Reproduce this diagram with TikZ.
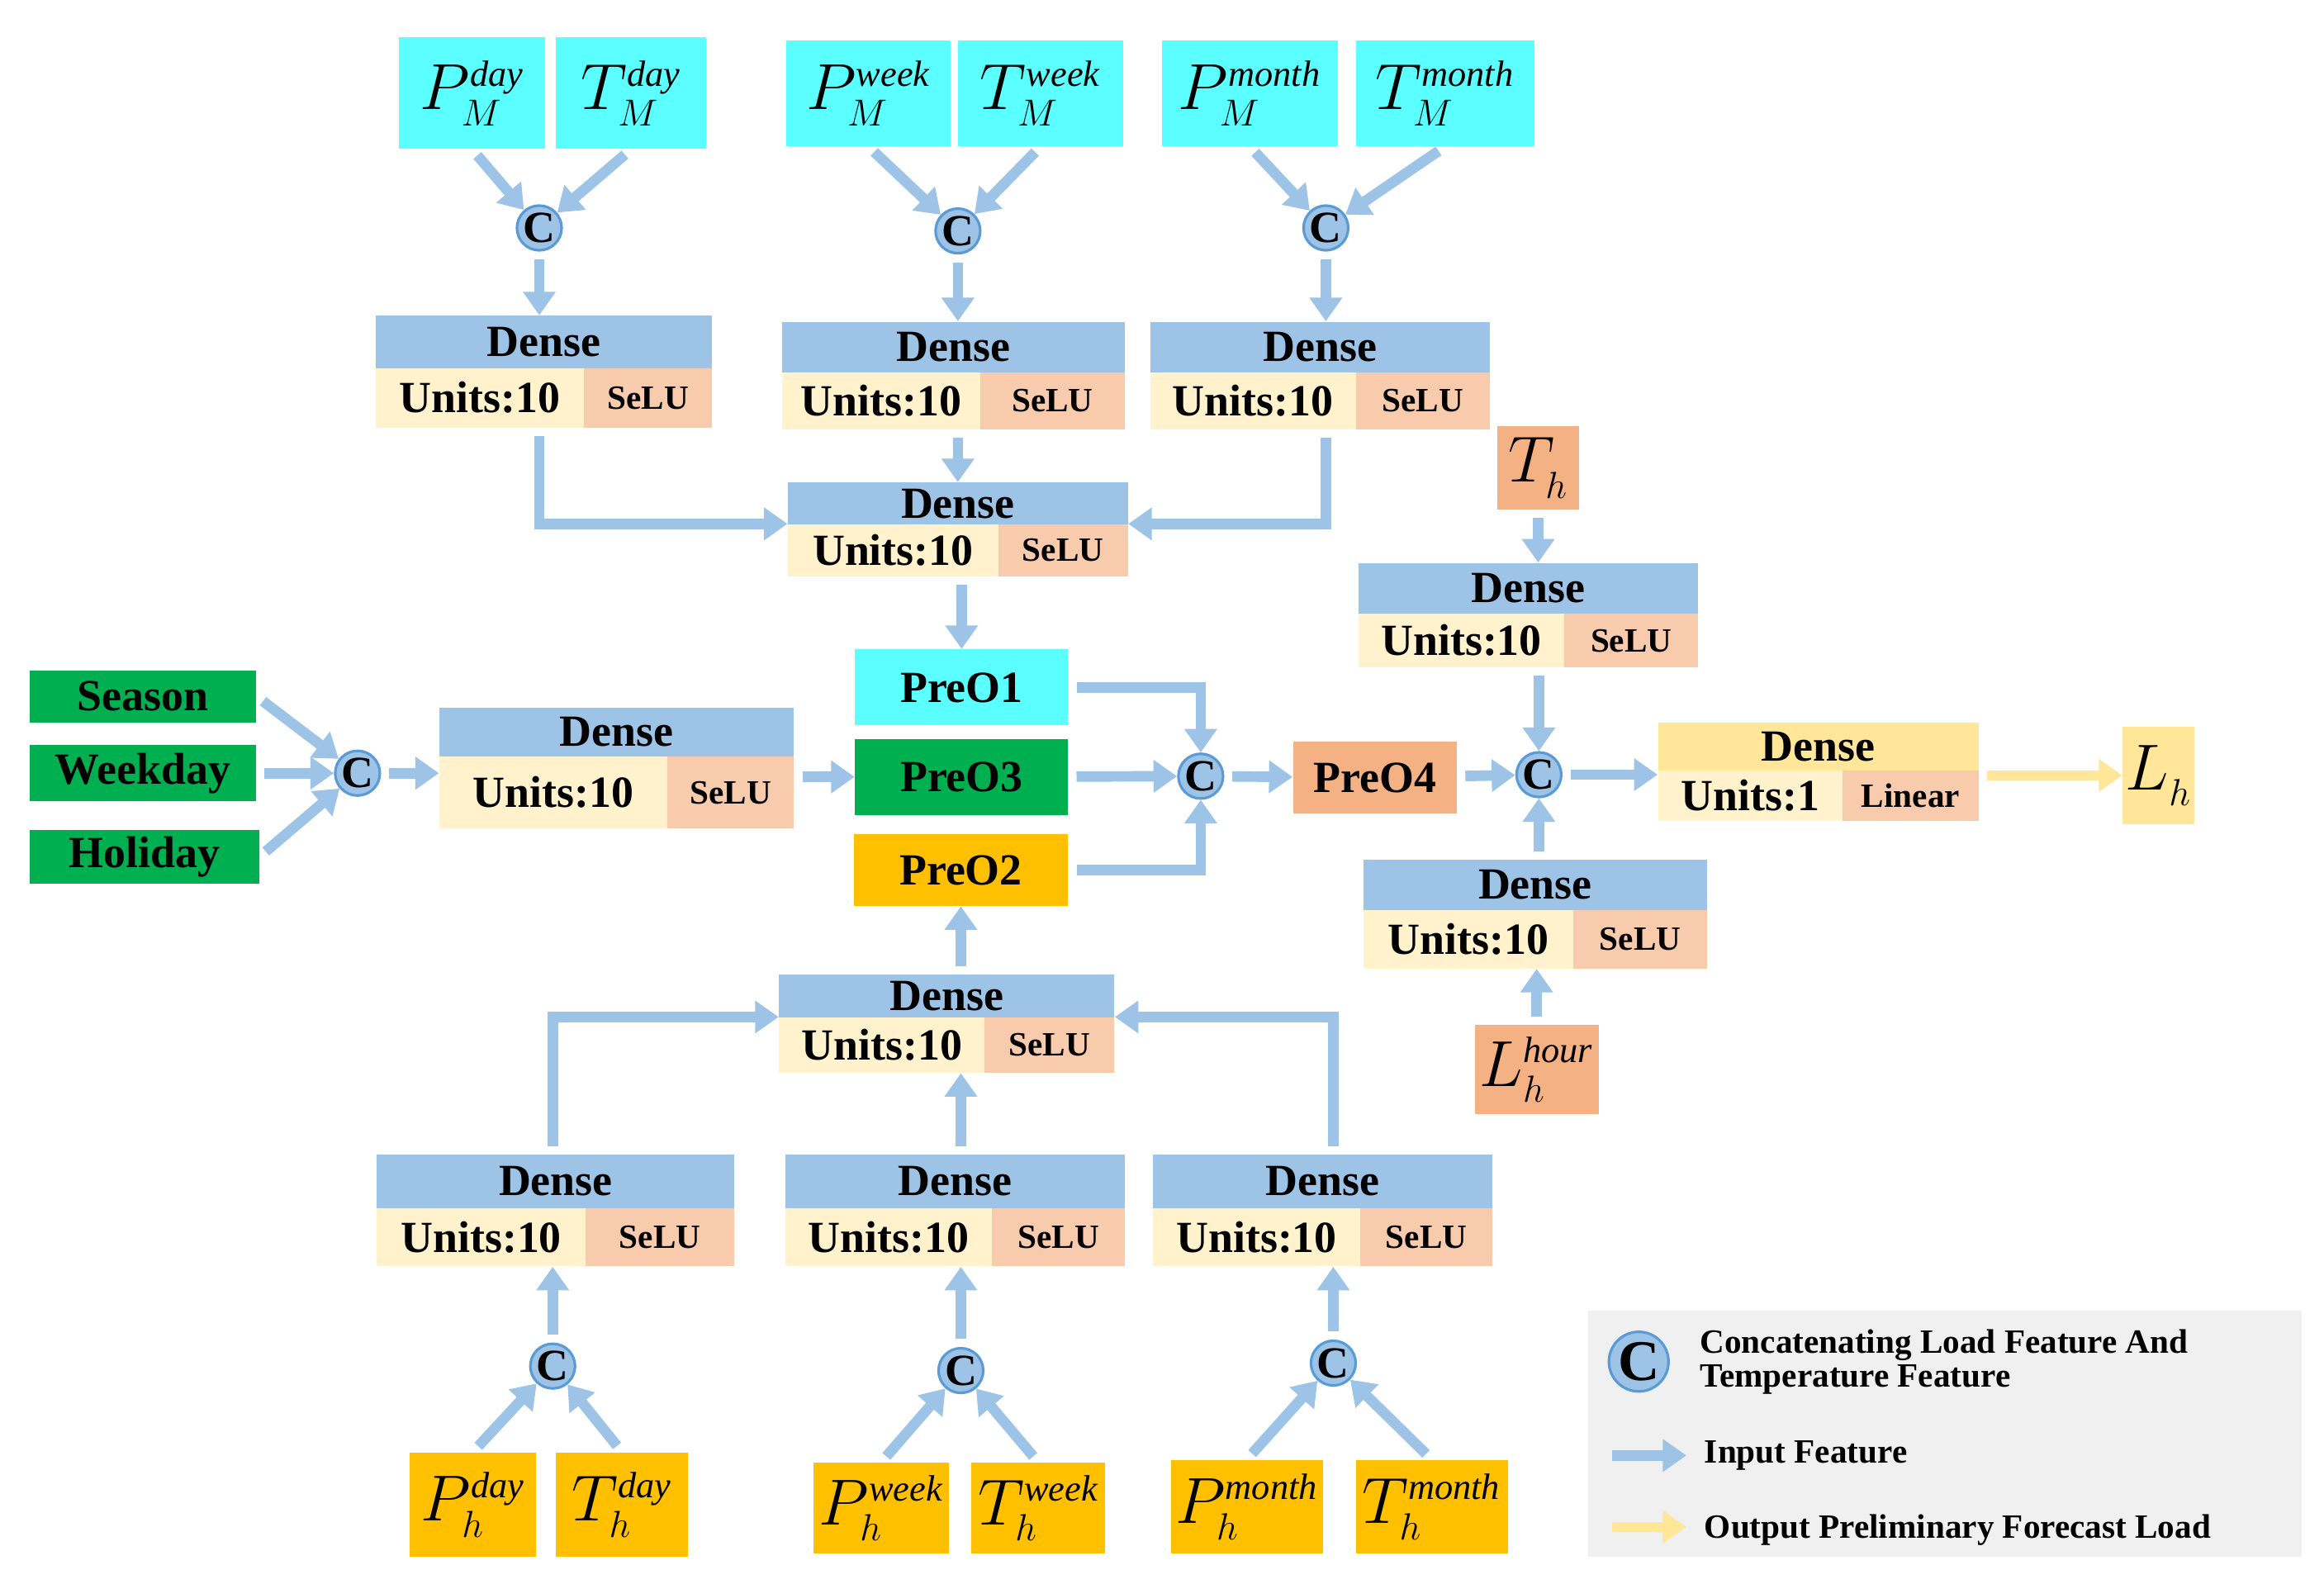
\documentclass[tikz,border=0pt]{standalone}
\usepackage{fontspec}
\setmainfont{Liberation Serif}
\usetikzlibrary{arrows.meta}
\definecolor{ablue}{HTML}{9DC3E6}
\definecolor{cream}{HTML}{FFF2CC}
\definecolor{peach}{HTML}{F8CBAD}
\definecolor{cyanb}{HTML}{5CFFFF}
\definecolor{greenb}{HTML}{00B050}
\definecolor{orangeb}{HTML}{FFC000}
\definecolor{peachd}{HTML}{F4B183}
\definecolor{yel}{HTML}{FFE699}
\definecolor{cring}{HTML}{5B9BD5}
\colorlet{barc}{ablue}
\newcommand\dense[9]{%
\node[rect,fill=barc,minimum width={(#3-#2)*0.02cm},minimum height={(#6-#5)*0.02cm},font=\dfont] (#1) at ({(#2+#3)/2},{(#5+#6)/2}) {Dense};
\node[rect,fill=cream,minimum width={(#4-#2)*0.02cm},minimum height={(#7-#6)*0.02cm},font=\dfont] (#1u) at ({(#2+#4)/2},{(#6+#7)/2}) {#8};
\node[rect,fill=peach,minimum width={(#3-#4)*0.02cm},minimum height={(#7-#6)*0.02cm},font=\afont] (#1a) at ({(#4+#3)/2},{(#6+#7)/2}) {#9};}
\newcommand\bx[8]{\node[rect,fill=#6,font=#7,minimum width={(#4-#2)*0.02cm},minimum height={(#5-#3)*0.02cm}] (#1) at ({(#2+#4)/2},{(#3+#5)/2}) {#8};}
\newcommand\dfont{\fontsize{17}{17}\selectfont\bfseries}
\newcommand\afont{\fontsize{13}{13}\selectfont\bfseries}
\newcommand\ifont{\fontsize{28}{28}\selectfont}
\newcommand\lab[3]{$#1^{\scriptscriptstyle\mathit{#2}}_{\scriptscriptstyle #3}$}
\tikzset{rect/.style={rectangle,inner sep=0pt,draw=none},
cc/.style={circle,fill=ablue,draw=cring,line width=1pt,minimum size=0.6cm,inner sep=0pt,font=\fontsize{17}{17}\selectfont\bfseries},
arr/.style={draw=ablue,line width=4pt,-{Triangle[length=9pt,width=12pt]},shorten <=3pt},
yarr/.style={arr,draw=yel}}
\begin{document}
\begin{tikzpicture}[x=0.02cm,y=-0.02cm]
\useasboundingbox[fill=white] (0,0) rectangle (1560,1063);
% top inputs
\bx{pmd}{268}{25}{366}{100}{cyanb}{\ifont}{\lab{P}{day}{M}}
\bx{tmd}{373}{25}{474}{100}{cyanb}{\ifont}{\lab{T}{day}{M}}
\bx{pmw}{528}{27}{638}{98}{cyanb}{\ifont}{\lab{P}{week}{M}}
\bx{tmw}{643}{27}{754}{98}{cyanb}{\ifont}{\lab{T}{week}{M}}
\bx{pmm}{780}{27}{898}{98}{cyanb}{\ifont}{\lab{P}{month}{M}}
\bx{tmm}{910}{27}{1030}{98}{cyanb}{\ifont}{\lab{T}{month}{M}}
\node[cc] (c1) at (362,153) {C};
\node[cc] (c2) at (643,155) {C};
\node[cc] (c3) at (890,153) {C};
\dense{d1}{252}{478}{392}{212}{247}{287}{Units:10}{SeLU}
\dense{d2}{525}{755}{658}{216}{250}{288}{Units:10}{SeLU}
\dense{d3}{772}{1000}{910}{216}{250}{288}{Units:10}{SeLU}
\dense{m}{529}{757}{670}{324}{352}{387}{Units:10}{SeLU}
\dense{r}{912}{1140}{1050}{378}{412}{448}{Units:10}{SeLU}
\dense{l}{295}{533}{448}{475}{508}{556}{Units:10}{SeLU}
\dense{q}{915}{1146}{1056}{577}{611}{650}{Units:10}{SeLU}
\dense{n}{523}{748}{661}{654}{683}{720}{Units:10}{SeLU}
\dense{b1}{253}{493}{393}{775}{811}{850}{Units:10}{SeLU}
\dense{b2}{527}{755}{666}{775}{811}{850}{Units:10}{SeLU}
\dense{b3}{774}{1002}{913}{775}{811}{850}{Units:10}{SeLU}
\colorlet{barc}{yel}
\dense{o}{1113}{1328}{1237}{485}{517}{551}{Units:1}{Linear}
% left
\bx{season}{20}{450}{172}{485}{greenb}{\dfont}{Season}
\bx{weekday}{20}{500}{172}{538}{greenb}{\dfont}{Weekday}
\bx{holiday}{20}{557}{174}{593}{greenb}{\dfont}{Holiday}
\node[cc] (c4) at (240,519) {C};
\bx{p1}{574}{436}{717}{487}{cyanb}{\dfont}{PreO1}
\bx{p3}{574}{496}{717}{547}{greenb}{\dfont}{PreO3}
\bx{p2}{573}{560}{717}{608}{orangeb}{\dfont}{PreO2}
\node[cc] (c5) at (806,521) {C};
\bx{p4}{868}{498}{978}{546}{peachd}{\dfont}{PreO4}
\node[cc] (c6) at (1033,520) {C};
\bx{th}{1005}{286}{1060}{342}{peachd}{\ifont}{\lab{T}{}{h}}
\bx{lhr}{990}{688}{1073}{748}{peachd}{\ifont}{\lab{L}{hour}{h}}
\bx{lh}{1425}{488}{1473}{553}{yel}{\ifont}{\lab{L}{}{h}}
% bottom
\bx{phd}{275}{975}{360}{1045}{orangeb}{\ifont}{\lab{P}{day}{h}}
\bx{thd}{373}{975}{462}{1045}{orangeb}{\ifont}{\lab{T}{day}{h}}
\bx{phw}{546}{982}{637}{1043}{orangeb}{\ifont}{\lab{P}{week}{h}}
\bx{thw}{652}{982}{742}{1043}{orangeb}{\ifont}{\lab{T}{week}{h}}
\bx{phm}{786}{980}{888}{1043}{orangeb}{\ifont}{\lab{P}{month}{h}}
\bx{thm}{910}{980}{1012}{1043}{orangeb}{\ifont}{\lab{T}{month}{h}}
\node[cc] (c7) at (371,917) {C};
\node[cc] (c8) at (645,920) {C};
\node[cc] (c9) at (895,915) {C};
% connectors top
\draw[arr] (pmd.south) -- (c1); \draw[arr] (tmd.south) -- (c1);
\draw[arr] (pmw.south) -- (c2); \draw[arr] (tmw.south) -- (c2);
\draw[arr] (pmm.south) -- (c3); \draw[arr] (tmm.south) -- (c3);
\draw[arr] (c1) -- (c1 |- d1.north);
\draw[arr] (c2) -- (c2 |- d2.north);
\draw[arr] (c3) -- (c3 |- d3.north);
\draw[arr] (d1u.south -| c1) |- (mu.north west);
\draw[arr] (d3u.south -| c3) |- (ma.north east);
\draw[arr] (d2u.south -| c2) -- (c2 |- m.north);
\draw[arr] (mu.south -| p1) -- (p1);
% left
\draw[arr] (season.east) -- (c4);
\draw[arr] (weekday) -- (c4);
\draw[arr] (holiday.east) -- (c4);
\draw[arr] (c4) -- (c4 -| l.west);
\draw[arr] (l.east |- p3) -- (p3.west);
\draw[arr] (p1.east) -| (c5);
\draw[arr] (p3) -- (c5);
\draw[arr] (p2.east) -| (c5);
\draw[arr] (c5) -- (p4);
\draw[arr] (p4) -- (c6);
\draw[arr] (th) -- (th |- r.north);
\draw[arr] (ru.south -| c6) -- (c6);
\draw[arr] (q.north -| c6) -- (c6);
\draw[arr] (lhr) -- (lhr |- qu.south);
\draw[arr] (c6) -- (c6 -| o.west);
\draw[yarr] (o.east |- lh) -- (lh.west);
% bottom
\draw[arr] (n.north -| p2) -- (p2);
\draw[arr] (b1.north -| c7) |- (nu.north west);
\draw[arr] (b2.north -| c8) -- (c8 |- nu.south);
\draw[arr] (b3.north -| c9) |- (na.north east);
\draw[arr] (c7) -- (c7 |- b1u.south);
\draw[arr] (c8) -- (c8 |- b2u.south);
\draw[arr] (c9) -- (c9 |- b3u.south);
\draw[arr] (phd.north) -- (c7); \draw[arr] (thd.north) -- (c7);
\draw[arr] (phw.north) -- (c8); \draw[arr] (thw.north) -- (c8);
\draw[arr] (phm.north) -- (c9); \draw[arr] (thm.north) -- (c9);
% legend
\node[rect,fill=gray!12,minimum width={479*0.02cm},minimum height={165*0.02cm}] (leg) at (1305.5,962.5) {};
\node[cc,minimum size=0.8cm,font=\fontsize{22}{22}\selectfont\bfseries] (lc) at (1100,914) {C};
\node[anchor=west,align=left,font=\afont] (lt1) at (1135,914) {Concatenating Load Feature And\\Temperature Feature};
\coordinate (la1) at (1077,977); \coordinate (lb1) at (1132,977);
\coordinate (la2) at (1077,1025); \coordinate (lb2) at (1132,1025);
\draw[arr] (la1) -- (lb1);
\draw[yarr] (la2) -- (lb2);
\node[anchor=west,font=\afont] (lt2) at (1138,977) {Input Feature};
\node[anchor=west,font=\afont] (lt3) at (1138,1027) {Output Preliminary Forecast Load};
\end{tikzpicture}
\end{document}
